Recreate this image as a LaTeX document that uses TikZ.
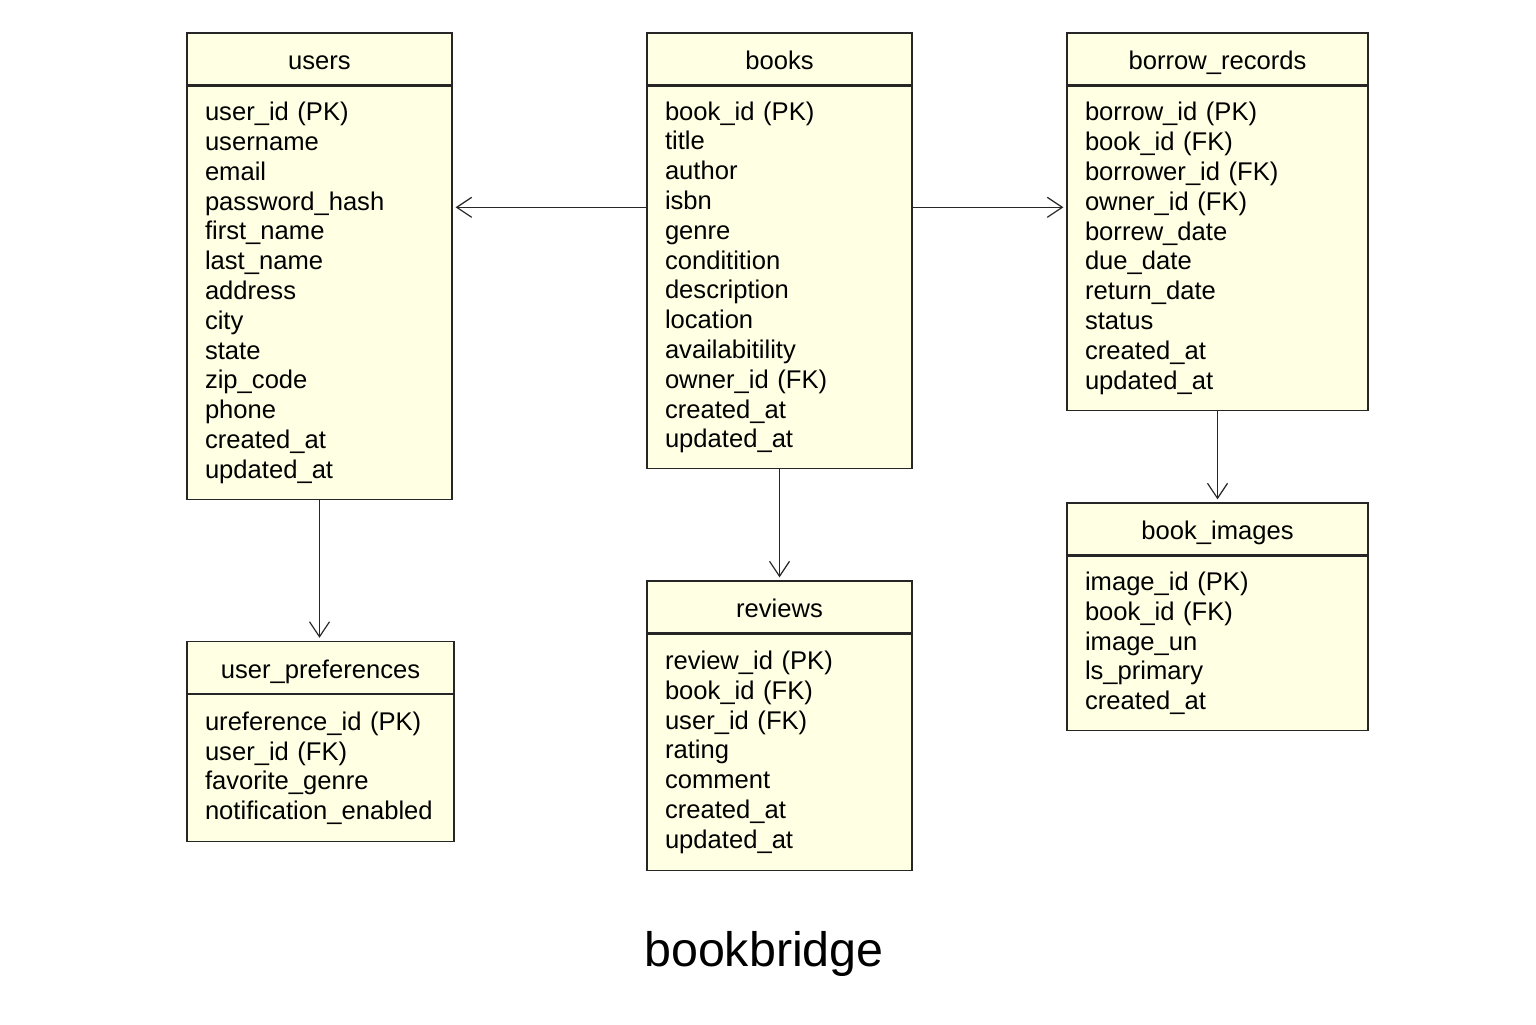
\documentclass[tikz,border=0pt]{standalone}
\usepackage{fontspec}
\setmainfont{Liberation Sans}
\usetikzlibrary{arrows.meta,positioning}
\definecolor{tablefill}{HTML}{FFFFE4}
\definecolor{tableline}{HTML}{262626}

\begin{document}
\begin{tikzpicture}[x=0.5pt,y=-0.5pt,>={Straight Barb[length=7.5pt,width=10pt]},shorten >=1.5pt,
  head/.style={draw=tableline,fill=tablefill,line width=0.65pt,minimum width=#1,minimum height=26pt,inner sep=0pt,text height=11pt,text depth=0.5pt,font=\fontsize{12.8}{14.9}\selectfont},
  body/.style={draw=tableline,fill=tablefill,line width=0.65pt,text width=#1,inner xsep=9pt,inner ysep=0pt,align=left,font=\fontsize{12.8}{14.9}\selectfont},
  link/.style={color=tableline,line width=0.6pt}]

\useasboundingbox (0,0) rectangle (1536,1024);

% tables
\node[head=132.5pt] (users) at (319.5,59) {users};
\node[body=114.5pt,minimum height=206.5pt,below=0pt of users] (usersb)
  {user\_id (PK)\\username\\email\\password\_hash\\first\_name\\last\_name\\address\\city\\state\\zip\_code\\phone\\created\_at\\updated\_at};

\node[head=132.5pt] (books) at (779.5,59) {books};
\node[body=114.5pt,minimum height=191pt,below=0pt of books] (booksb)
  {book\_id (PK)\\title\\author\\isbn\\genre\\conditition\\description\\location\\availabitility\\owner\_id (FK)\\created\_at\\updated\_at};

\node[head=150.5pt] (borrow) at (1217.5,59) {borrow\_records};
\node[body=132.5pt,minimum height=162pt,below=0pt of borrow] (borrowb)
  {borrow\_id (PK)\\book\_id (FK)\\borrower\_id (FK)\\owner\_id (FK)\\borrew\_date\\due\_date\\return\_date\\status\\created\_at\\updated\_at};

\node[head=150.5pt] (images) at (1217.5,529) {book\_images};
\node[body=132.5pt,minimum height=87pt,below=0pt of images] (imagesb)
  {image\_id (PK)\\book\_id (FK)\\image\_un\\ls\_primary\\created\_at};

\node[head=132.5pt] (reviews) at (779.5,607) {reviews};
\node[body=114.5pt,minimum height=118pt,below=0pt of reviews] (reviewsb)
  {review\_id (PK)\\book\_id (FK)\\user\_id (FK)\\rating\\comment\\created\_at\\updated\_at};

\node[head=133.5pt] (prefs) at (320.5,667.5) {user\_preferences};
\node[body=115.5pt,minimum height=73.5pt,below=0pt of prefs] (prefsb)
  {ureference\_id (PK)\\user\_id (FK)\\favorite\_genre\\notification\_enabled};

\node[font=\fontsize{24.2}{29}\selectfont] (title) at (764,954) {bookbridge};

% relations
\path[->,link] ([yshift=35pt]booksb.west) edge ([yshift=35pt]booksb.west -| usersb.east)
               ([yshift=35pt]booksb.east) edge ([yshift=35pt]booksb.east -| borrowb.west)
               (booksb.south) edge (reviews.north)
               (usersb.south) edge (usersb.south |- prefs.north)
               (borrowb.south) edge (images.north);

\end{tikzpicture}
\end{document}
